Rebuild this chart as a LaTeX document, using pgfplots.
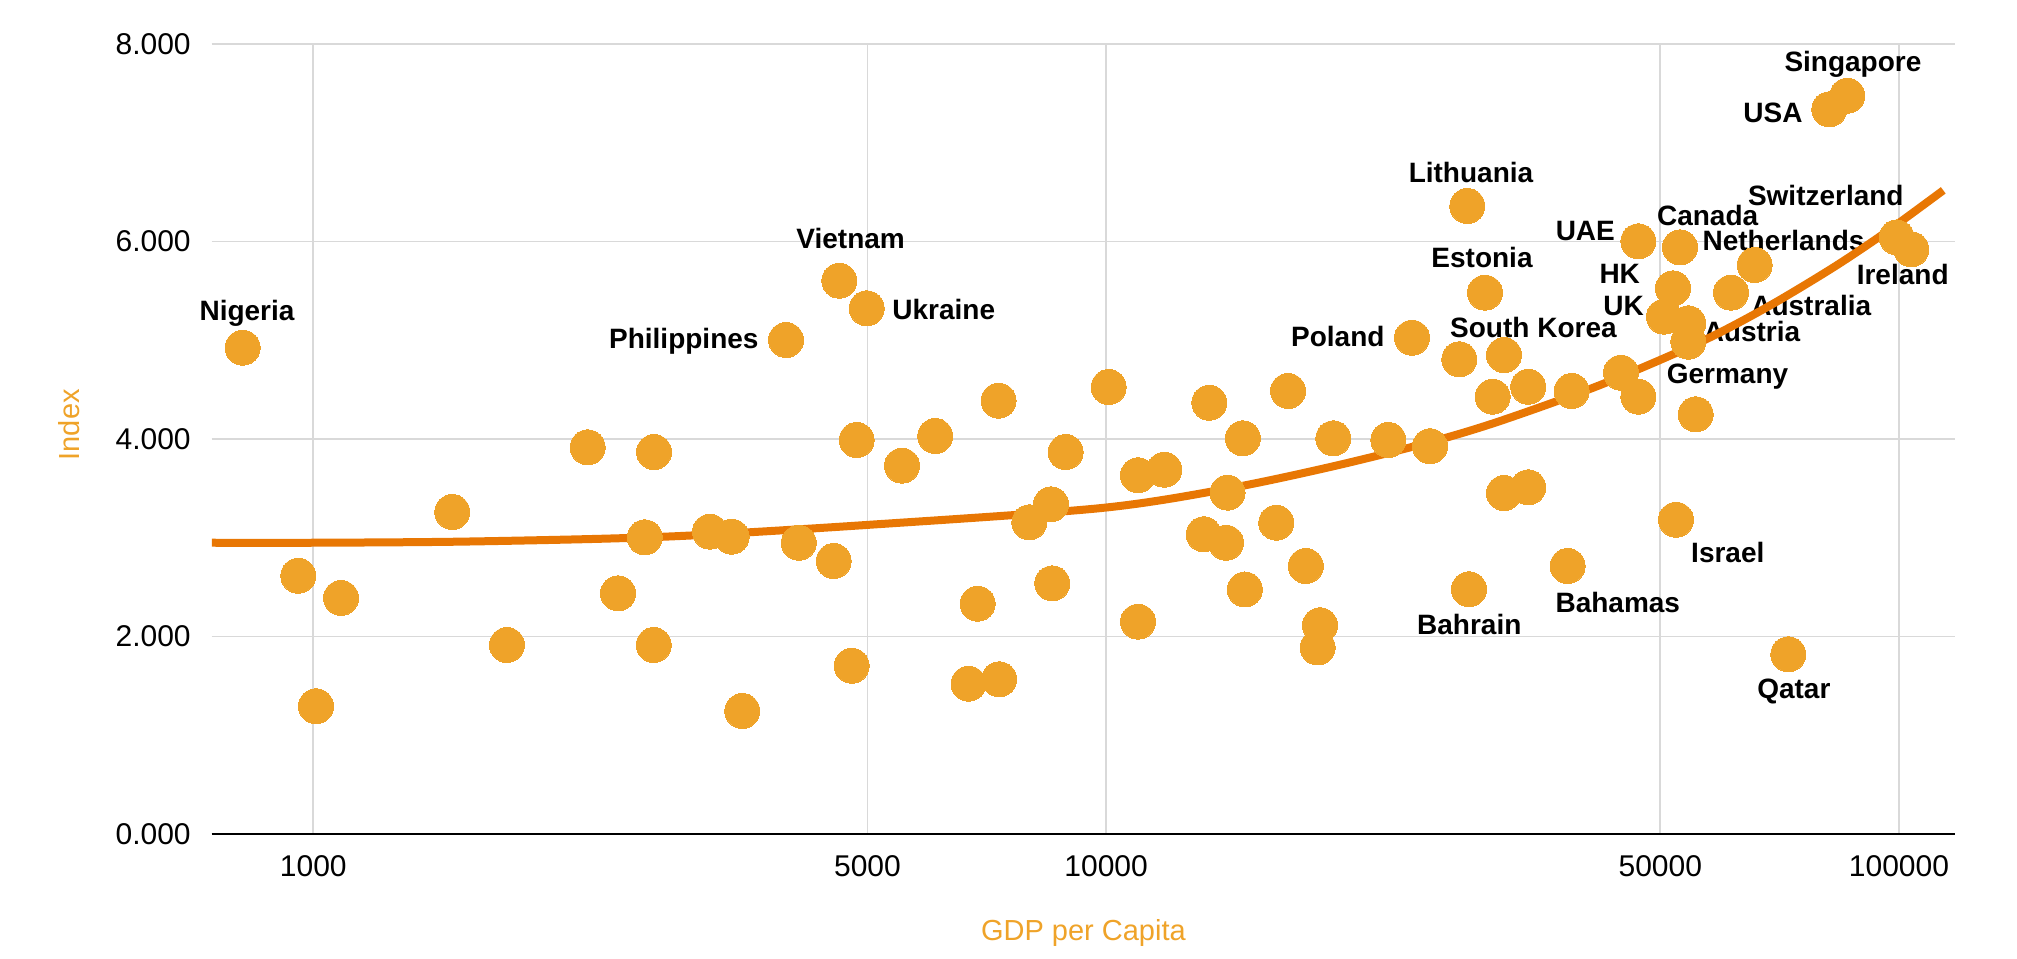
\documentclass[border=0pt]{standalone}
\usepackage{fontspec}
\setmainfont{Liberation Sans}
\usepackage{pgfplots}
\usepackage{pgfplotstable}
\pgfplotsset{compat=1.18}

\definecolor{dotc}{RGB}{239,163,41}
\definecolor{trendc}{RGB}{232,119,4}
\definecolor{gridc}{RGB}{217,217,217}

% GDP per capita vs. index, one row per country
\pgfplotstableread{
gdp     idx
814.6   4.924
957.3   2.616
1007.9  1.295
1083.8  2.391
1497.3  3.261
1754.9  1.915
2218.6  3.916
2423.2  2.438
2618.6  3.005
2689.9  3.868
2687.6  1.915
3164.8  3.062
3370.7  3.011
3476    1.247
3947.5  5.002
4095.7  2.950
4532.7  2.765
4607    5.602
4776    1.705
4846    3.990
4989    5.323
5527    3.730
6087    4.030
6707    1.523
6887    2.333
7318    4.388
7331    1.568
8000    3.157
8519    3.339
8551    2.539
8891    3.868
10074   4.526
10970   3.633
10970   2.151
11840   3.689
13275   3.036
13493   4.367
14228   3.457
14166   2.950
14874   4.007
14960   2.477
16389   3.153
16961   4.486
17860   2.715
18612   2.115
18488   1.890
19347   4.007
22697   3.990
24309   5.025
25614   3.927
27890   4.807
28545   6.358
28686   2.479
30049   5.481
30729   4.428
31754   3.453
31754   4.850
34069   4.529
34069   3.511
38209   2.715
38655   4.486
44607   4.671
46906   4.428
46906   6.001
50531   5.238
51871   5.525
52326   3.183
52937   5.940
54229   5.171
54229   4.985
55407   4.250
61396   5.481
65768   5.761
72518   1.821
81669   7.337
86049   7.475
99332   6.041
103637  5.920
}\countries

% fitted trend curve
\pgfplotstableread{
gdp     idx
745     2.950
1000    2.950
1500    2.960
2300    2.990
3075    3.028
4989    3.130
9823    3.300
14195   3.496
19347   3.724
25614   3.968
31372   4.181
41970   4.546
56110   4.980
68100   5.332
82620   5.736
96520   6.099
113720  6.517
}\trend

\begin{document}
\begin{tikzpicture}
\useasboundingbox (0,0) rectangle (1008.5pt,479pt);
\begin{axis}[
  at={(105.85pt,61.9pt)}, anchor=south west,
  scale only axis, width=871.65pt, height=395.2pt,
  xmode=log, xmin=744.6, xmax=117680, ymin=0, ymax=8,
  xtick={1000,5000,10000,50000,100000},
  xticklabels={1000,5000,10000,50000,100000},
  minor xtick={},
  ytick={0,2,4,6,8},
  grid=major,
  major grid style={draw=gridc, line width=0.85pt},
  axis line style={draw=none},
  tick style={draw=none},
  ticklabel style={font=\fontsize{15}{18}\selectfont, text=black},
  /pgf/number format/fixed,
  /pgf/number format/fixed zerofill,
  /pgf/number format/precision=3,
  /pgf/number format/assume math mode=true,
  xticklabel style={yshift=-7pt},
  yticklabel style={xshift=-7pt},
  xlabel={GDP per Capita},
  ylabel={Index},
  label style={font=\fontsize{14.5}{17}\selectfont, text=dotc},
  xlabel style={at={(axis description cs:0.5,-0.1341)}, anchor=base},
  ylabel style={at={(axis description cs:-0.0757,0.518)}, anchor=base},
  clip=false,
]
% baseline along the zero line
\draw[black, line width=1pt] (rel axis cs:0,0) -- (rel axis cs:1,0);

% country names
\begin{scope}[every node/.style={font=\fontsize{14}{17}\selectfont\bfseries, text=black, anchor=base}]
\node at (axis cs:824.9,5.204)  {Nigeria};
\node at (axis cs:2933,4.911)   {Philippines};
\node at (axis cs:4762,5.930)   {Vietnam};
\node at (axis cs:6241,5.212)   {Ukraine};
\node at (axis cs:19600,4.934)  {Poland};
\node at (axis cs:28853,6.601)  {Lithuania};
\node at (axis cs:29790,5.731)  {Estonia};
\node at (axis cs:34590,5.032)  {South Korea};
\node at (axis cs:28710,2.026)  {Bahrain};
\node at (axis cs:44195,2.242)  {Bahamas};
\node at (axis cs:40214,6.007)  {UAE};
\node at (axis cs:44440,5.569)  {HK};
\node at (axis cs:44932,5.255)  {UK};
\node at (axis cs:57370,6.166)  {Canada};
\node at (axis cs:80850,6.368)  {Switzerland};
\node at (axis cs:71515,5.906)  {Netherlands};
\node at (axis cs:101082,5.566) {Ireland};
\node at (axis cs:77514,5.255)  {Australia};
\node at (axis cs:65254,4.985)  {Austria};
\node at (axis cs:60777,4.564)  {Germany};
\node at (axis cs:60830,2.752)  {Israel};
\node at (axis cs:73690,1.375)  {Qatar};
\node at (axis cs:87487,7.718)  {Singapore};
\node at (axis cs:69367,7.205)  {USA};
\end{scope}

% trend curve
\addplot[trendc, line width=4pt, smooth, no marks] table[x=gdp, y=idx] {\trend};

% countries
\addplot[dotc, only marks, mark=*, mark size=8.75pt, mark options={draw=dotc, fill=dotc, line width=0pt}]
  table[x=gdp, y=idx] {\countries};
\end{axis}
\end{tikzpicture}
\end{document}
